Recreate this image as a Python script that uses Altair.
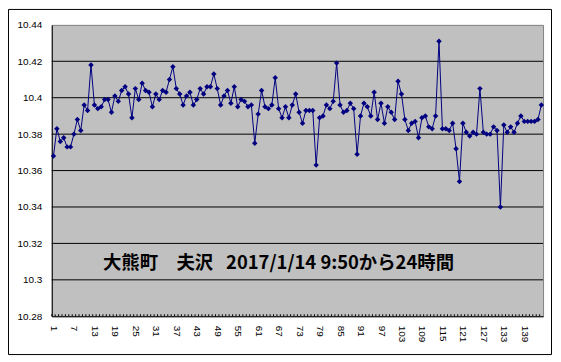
import altair as alt
import pandas as pd

values = [
    10.368, 10.383, 10.376, 10.378, 10.373, 10.373, 10.380, 10.388, 10.382, 10.396,
    10.393, 10.418, 10.396, 10.394, 10.395, 10.399, 10.399, 10.392, 10.401, 10.398,
    10.404, 10.406, 10.402, 10.389, 10.405, 10.399, 10.408, 10.404, 10.403, 10.395,
    10.402, 10.399, 10.404, 10.403, 10.410, 10.417, 10.405, 10.402, 10.396, 10.401,
    10.403, 10.396, 10.399, 10.405, 10.402, 10.406, 10.406, 10.413, 10.405, 10.396,
    10.401, 10.404, 10.397, 10.406, 10.395, 10.399, 10.398, 10.395, 10.396, 10.375,
    10.391, 10.404, 10.395, 10.394, 10.396, 10.411, 10.394, 10.389, 10.395, 10.389,
    10.396, 10.402, 10.392, 10.386, 10.393, 10.393, 10.393, 10.363, 10.389, 10.390,
    10.396, 10.394, 10.398, 10.419, 10.396, 10.392, 10.393, 10.397, 10.394, 10.369,
    10.390, 10.397, 10.395, 10.390, 10.403, 10.388, 10.397, 10.386, 10.395, 10.392,
    10.388, 10.409, 10.402, 10.388, 10.382, 10.386, 10.387, 10.378, 10.389, 10.390,
    10.384, 10.383, 10.390, 10.431, 10.383, 10.383, 10.382, 10.386, 10.372, 10.354,
    10.386, 10.381, 10.379, 10.381, 10.380, 10.405, 10.381, 10.380, 10.380, 10.384,
    10.382, 10.340, 10.385, 10.381, 10.384, 10.381, 10.386, 10.390, 10.387, 10.387,
    10.387, 10.387, 10.388, 10.396,
]
index = list(range(1, len(values) + 1))
x_label_values = list(range(1, 140, 6))
y_tick_values = [10.28, 10.30, 10.32, 10.34, 10.36, 10.38, 10.40, 10.42, 10.44]
grid_values = [10.30, 10.32, 10.34, 10.36, 10.38, 10.40, 10.42]
title_text = "大熊町　夫沢\u2002\u20092017/1/14 9:50から24時間"

W, H = 494, 293
df = pd.DataFrame({"i": index, "v": values})

xscale = alt.Scale(domain=[0.5, len(values) + 0.5], nice=False, zero=False)
yscale = alt.Scale(domain=[10.28, 10.44], nice=False, zero=False)

xaxis = alt.Axis(
    values=x_label_values,
    labelAngle=90,
    title=None,
    grid=False,
    ticks=False,
    domainColor="black",
    labelFontSize=10,
    labelFont="Liberation Sans",
    labelColor="black",
    labelPadding=9,
    labelFlush=False,
    labelOverlap=False,
)
yaxis = alt.Axis(
    values=y_tick_values,
    format=".6~r",
    title=None,
    grid=False,
    ticks=False,
    domainColor="black",
    labelFontSize=10,
    labelFont="Liberation Sans",
    labelColor="black",
    labelPadding=10,
    labelFlush=False,
)

line = alt.Chart(df).mark_line(
    color="#000080",
    strokeWidth=1,
    point=alt.OverlayMarkDef(shape="diamond", size=30, filled=True, color="#000080", opacity=1),
).encode(
    x=alt.X("i:Q", scale=xscale, axis=xaxis, title=None),
    y=alt.Y("v:Q", scale=yscale, axis=yaxis, title=None),
)

grid = alt.Chart(pd.DataFrame({"g": grid_values})).mark_rule(
    color="black", strokeWidth=1
).encode(y=alt.Y("g:Q", scale=yscale, axis=yaxis, title=None))

ticks = alt.Chart(df).transform_calculate(b="datum.i - 0.5").mark_rule(
    color="#000000", strokeWidth=1
).encode(
    x=alt.X("b:Q", scale=xscale, axis=xaxis, title=None),
    y=alt.value(H - 2),
    y2=alt.value(H),
)

label = alt.Chart(pd.DataFrame({"t": [title_text]})).mark_text(
    font="Noto Sans CJK JP",
    fontSize=18.5,
    fontWeight="bold",
    color="black",
    align="center",
    baseline="middle",
).encode(text="t:N", x=alt.value(228), y=alt.value(239))

frame = alt.Chart(pd.DataFrame({"f": [0]})).mark_rect(
    fill=None, fillOpacity=0, stroke="black", strokeWidth=1
).encode(
    x=alt.value(-43.5), x2=alt.value(502.5), y=alt.value(-15.5), y2=alt.value(331.5)
)

chart = alt.layer(grid, ticks, line, label, frame).properties(
    width=W,
    height=H,
    autosize=alt.AutoSizeParams(type="none"),
    padding={"left": 44, "top": 16, "right": 10, "bottom": 40},
    background="white",
).configure_view(
    fill="#C0C0C0", stroke="#808080", strokeWidth=1
)

chart.save("out.html", embed_options={"renderer": "svg", "actions": False})
